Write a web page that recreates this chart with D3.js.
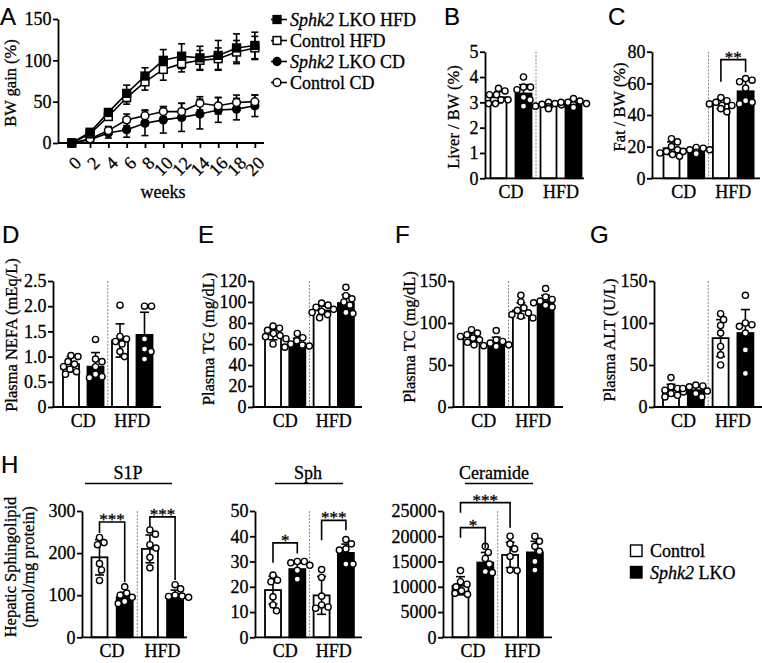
<!DOCTYPE html>
<html><head><meta charset="utf-8">
<script src="https://cdn.jsdelivr.net/npm/d3@7"></script>
<style>
body{margin:0;background:#fff}
svg{display:block}
text{font-family:"Liberation Serif","Times New Roman",serif;fill:#000;stroke:#000;stroke-width:0.3px}
</style>
</head><body>
<svg id="c" width="762" height="663"></svg>
<script>
// ---------- DATA ----------
const weeks = [0,2,4,6,8,10,12,14,16,18,20];
const bwLkoHfd = [0,13,37,60,81,100,105,103,106,115,118];
const bwLkoHfdSd = [0,3,4,10,10,13,15,14,18,17,16];
const bwCtrlHfd = [0,11,32,55,74,89,96,100,102,110,115];
const bwCtrlHfdSd = [0,3,4,8,10,13,10,12,13,14,14];
const bwLkoCd = [0,4,12,16,24,28,31,35,40,41,45];
const bwLkoCdSd = [0,2,6,9,15,16,17,18,15,13,13];
const bwCtrlCd = [0,5,15,28,33,38,38,48,45,49,50];
const bwCtrlCdSd = [0,2,5,7,7,6,10,8,10,9,8];
const yTicksA = [0,50,100,150];

const groups = ["Control CD","Sphk2 LKO CD","Control HFD","Sphk2 LKO HFD"];
const diets = ["CD","HFD"];

const liverMean = [3.2,3.35,2.88,2.95];
const liverSd = [0.22,0.35,0.08,0.12];
const liverPts = [[3.55,3.45,3.3,3.3,3.1,3.1,2.95,2.95],[4.0,3.6,3.6,3.5,3.2,3.1,2.85],[3.0,2.95,2.92,2.9,2.85,2.82,2.75],[3.15,3.05,3.0,3.0,2.95,2.9,2.8]];
const liverTicks = [0,1,2,3,4,5];

const fatMean = [19,17.5,47,55];
const fatSd = [4,1.5,3,7];
const fatPts = [[25,23,20,18,17,16,15,14],[19.5,19,18,18,17,16.5,15.5],[51,49,48,47,46,46,44,42],[63,62,61,57,49,48,47]];
const fatTicks = [0,20,40,60,80];

const nefaMean = [0.85,0.8,1.32,1.43];
const nefaSd = [0.15,0.28,0.33,0.45];
const nefaPts = [[1.02,1.0,0.9,0.85,0.8,0.75,0.7,0.65],[1.34,0.95,0.9,0.8,0.65,0.6,0.58],[2.02,1.4,1.35,1.3,1.25,1.1,1.0],[2.0,2.0,1.35,1.15,1.1,0.95]];
const nefaTicks = [0,0.5,1.0,1.5,2.0,2.5];

const tgMean = [69,61,92,99];
const tgSd = [5,4.5,4,8];
const tgPts = [[77,75,73,70,68,67,65,60],[70,66,63,60,59,58,57],[99,97,95,93,91,90,88,85],[114,106,103,100,97,90,89]];
const tgTicks = [0,20,40,60,80,100,120];

const tcMean = [83,77,115,126];
const tcSd = [5,6,9,7];
const tcPts = [[92,88,86,84,82,80,77,74],[91,80,78,76,74,73,72],[133,125,118,115,112,110,108,106],[141,131,128,126,124,121,119]];
const tcTicks = [0,50,100,150];

const altMean = [20,20,82,88];
const altSd = [7,5,22,28];
const altPts = [[35,24,22,20,18,16,14,12],[26,25,24,22,19,16,12],[111,104,97,88,72,62,50],[133,100,98,96,88,68,40]];
const altTicks = [0,50,100,150];

const s1pMean = [190,95,210,102];
const s1pSd = [42,12,33,10];
const s1pPts = [[237,225,220,175,160,135],[120,105,100,95,85,80],[255,245,220,212,190,165],[125,115,100,98,97,95]];
const s1pTicks = [0,100,200,300];

const sphMean = [18.7,27,16.6,33.4];
const sphSd = [5.5,2.3,7.5,3.5];
const sphPts = [[24.6,22.6,22,16,12.8,10.5],[30,30,29.5,28.5,26.5,23],[26.8,23.7,16.3,12.8,11.5,12],[38.7,37,35,34.5,29,29]];
const sphTicks = [0,10,20,30,40,50];

const cerMean = [10200,14800,16300,16800];
const cerSd = [1800,2000,2500,2200];
const cerPts = [[13200,11000,10500,10000,9200,8700,8500],[18000,16800,15600,14500,13000,12800],[20000,18500,17500,16000,13300,13200],[20000,19000,18000,17000,15000,13300]];
const cerTicks = [0,5000,10000,15000,20000,25000];

// significance brackets: [groupA, groupB, top, legA end, legB end, label]
const fatSig = [[2,3,75,61,67,"**"]];
const s1pSig = [[0,1,274,248,131,"***"],[2,3,286,262,136,"***"]];
const sphSig = [[0,1,37.4,29.5,33.2,"*"],[2,3,46.3,38.4,42.4,"***"]];
const cerSig = [[0,1,21700,19700,17700,"*"],[0,2,26650,24660,21690,"***"]];

// ---------- DRAWING ----------
const svg = d3.select("#c");
const SERIF = '"Liberation Serif","Times New Roman",serif';
const SANS = '"Liberation Sans",Arial,sans-serif';
const FS = 18;     // horizontal text
const FSV = 16.5;  // vertical titles
const SW = 1.8;

function txt(sel,x,y,size){
  return sel.append("text").attr("x",x).attr("y",y).attr("font-size",size||FS)
    .style("font-family",SERIF).attr("fill","#000");
}
function styleAxis(g){
  g.attr("font-family",null).attr("font-size",null);
  g.selectAll("path,line").attr("stroke","#000").attr("stroke-width",SW);
  g.selectAll("text").attr("font-size",FS).style("font-family",SERIF).attr("fill","#000");
}
function letter(t,x,y){
  svg.append("text").attr("x",x).attr("y",y).attr("font-size",24).style("font-family",SANS).style("stroke-width","0.2px").text(t);
}
function yTitle(lines,x,y,gap){
  lines.forEach((l,i)=>{
    svg.append("text").attr("transform",`translate(${x+i*(gap||0)},${y}) rotate(-90)`)
      .attr("text-anchor","middle").attr("font-size",FSV).style("font-family",SERIF).text(l);
  });
}

// ---- Panel A ----
(function(){
  const x = d3.scaleLinear().domain([-1.5,21]).range([58,264]);
  const y = d3.scaleLinear().domain([0,150]).range([143,19]);
  const ga = svg.append("g").attr("transform","translate(58,0)")
    .call(d3.axisLeft(y).tickValues(yTicksA).tickSize(5).tickPadding(1.5).tickSizeOuter(0));
  styleAxis(ga);
  const gx = svg.append("g").attr("transform","translate(0,143)")
    .call(d3.axisBottom(x).tickValues(weeks).tickSize(5).tickSizeOuter(0));
  styleAxis(gx);
  gx.select(".domain").attr("d",`M58,0H264`);
  gx.selectAll(".tick text").attr("text-anchor","end").attr("dy",null).attr("y",0)
    .attr("transform","translate(6,17) rotate(-45)").attr("dominant-baseline","central");
  txt(svg,163,198).attr("text-anchor","middle").text("weeks");
  yTitle(["BW gain (%)"],16,83);
  letter("A",0,25);

  const series = [
    {m:bwLkoCd, s:bwLkoCdSd, shape:"circle", fill:"#000"},
    {m:bwCtrlCd, s:bwCtrlCdSd, shape:"circle", fill:"#fff"},
    {m:bwCtrlHfd, s:bwCtrlHfdSd, shape:"square", fill:"#fff"},
    {m:bwLkoHfd, s:bwLkoHfdSd, shape:"square", fill:"#000"}
  ];
  const line = d3.line().x((d,i)=>x(weeks[i])).y(d=>y(d));
  series.forEach(se=>{
    const g = svg.append("g");
    se.m.forEach((v,i)=>{
      if(se.s[i]>0){
        const cx=x(weeks[i]);
        g.append("line").attr("x1",cx).attr("x2",cx).attr("y1",y(v-se.s[i])).attr("y2",y(v+se.s[i])).attr("stroke","#000").attr("stroke-width",1.6);
        [v-se.s[i],v+se.s[i]].forEach(e=>g.append("line").attr("x1",cx-3.5).attr("x2",cx+3.5).attr("y1",y(e)).attr("y2",y(e)).attr("stroke","#000").attr("stroke-width",1.6));
      }
    });
  });
  series.forEach(se=>{
    svg.append("path").attr("d",line(se.m)).attr("fill","none").attr("stroke","#000").attr("stroke-width",1.6);
  });
  function marker(g,shape,fill,cx,cy){
    if(shape==="square") g.append("rect").attr("x",cx-3.9).attr("y",cy-3.9).attr("width",7.8).attr("height",7.8).attr("fill",fill).attr("stroke","#000").attr("stroke-width",1.5);
    else g.append("circle").attr("cx",cx).attr("cy",cy).attr("r",3.9).attr("fill",fill).attr("stroke","#000").attr("stroke-width",1.5);
  }
  series.forEach(se=>{
    const g=svg.append("g");
    se.m.forEach((v,i)=>marker(g,se.shape,se.fill,x(weeks[i]),y(v)));
  });
  const leg = [
    {it:"Sphk2", rest:" LKO HFD", shape:"square", fill:"#000"},
    {it:"", rest:"Control HFD", shape:"square", fill:"#fff"},
    {it:"Sphk2", rest:" LKO CD", shape:"circle", fill:"#000"},
    {it:"", rest:"Control CD", shape:"circle", fill:"#fff"}
  ];
  leg.forEach((l,i)=>{
    const yy = 19.5+i*21;
    svg.append("line").attr("x1",271).attr("x2",287).attr("y1",yy).attr("y2",yy).attr("stroke","#000").attr("stroke-width",1.6);
    marker(svg,l.shape,l.fill,277,yy);
    const t = txt(svg,290,yy+6);
    if(l.it) t.append("tspan").attr("font-style","italic").text(l.it);
    t.append("tspan").text(l.rest);
  });
})();

// ---- bar panels ----
function swarm(vals, y, r){
  const out = new Array(vals.length);
  const placed = [];
  vals.map((v,i)=>({i,py:y(v)})).sort((a,b)=>a.py-b.py).forEach(p=>{
    let off=0;
    for(let k=0;k<60;k++){
      const c = k===0?0:(k%2? Math.ceil(k/2): -Math.ceil(k/2))*0.5;
      if(placed.every(q=>(q.x-c)**2+(q.y-p.py)**2 >= (2*r+0.4)**2)){off=c;break;}
    }
    placed.push({x:off,y:p.py}); out[p.i]=off;
  });
  return out;
}

function barPanel(o){
  const y = d3.scaleLinear().domain([0,o.max]).range([o.yB,o.yT]);
  const x = d3.scalePoint().domain(d3.range(4)).range([o.x0+o.off, o.x0+o.off+3*o.step]);
  const dx = (x(1)+x(2))/2;
  svg.append("line").attr("x1",dx).attr("x2",dx).attr("y1",o.yT).attr("y2",o.yB)
    .attr("stroke","#777").attr("stroke-width",0.9).attr("stroke-dasharray","2,1.5");
  const bw = 16;
  o.mean.forEach((m,i)=>{
    svg.append("rect").attr("x",x(i)-bw/2).attr("y",y(m)).attr("width",bw).attr("height",o.yB-y(m))
      .attr("fill",i%2?"#000":"#fff").attr("stroke","#000").attr("stroke-width",SW);
  });
  o.mean.forEach((m,i)=>{
    const cx=x(i), s=o.sd[i];
    svg.append("line").attr("x1",cx).attr("x2",cx).attr("y1",y(m-s)).attr("y2",y(m+s)).attr("stroke","#000").attr("stroke-width",1.6);
    [m-s,m+s].forEach(e=>svg.append("line").attr("x1",cx-4.5).attr("x2",cx+4.5).attr("y1",y(e)).attr("y2",y(e)).attr("stroke","#000").attr("stroke-width",1.6));
  });
  const r=3.1;
  o.pts.forEach((arr,i)=>{
    const offs = swarm(arr,y,r);
    arr.forEach((v,j)=>{
      svg.append("circle").attr("cx",x(i)+offs[j]).attr("cy",y(v)).attr("r",r)
        .attr("fill","#fff").attr("stroke","#000").attr("stroke-width",1.4);
    });
  });
  const ga = svg.append("g").attr("transform",`translate(${o.x0},0)`)
    .call(d3.axisLeft(y).tickValues(o.ticks).tickSize(5).tickPadding(1.5).tickSizeOuter(0).tickFormat(o.fmt||(d=>d)));
  styleAxis(ga);
  svg.append("line").attr("x1",o.x0-0.9).attr("x2",o.x1).attr("y1",o.yB).attr("y2",o.yB).attr("stroke","#000").attr("stroke-width",SW);
  diets.forEach((d,k)=>{
    txt(svg,(x(2*k)+x(2*k+1))/2,o.yB+19.5).attr("text-anchor","middle").text(d);
  });
  (o.sig||[]).forEach(s=>{
    const [a,b,top,la,lb,lab]=s;
    svg.append("path").attr("d",`M${x(a)},${y(la)}V${y(top)}H${x(b)}V${y(lb)}`)
      .attr("fill","none").attr("stroke","#000").attr("stroke-width",1.6);
    txt(svg,(x(a)+x(b))/2,y(top)+3,17).attr("text-anchor","middle").text(lab);
  });
  if(o.title) yTitle(o.title,o.tx,o.ty,o.gap);
  if(o.letter) letter(o.letter,o.lx,o.ly);
  if(o.header){
    txt(svg,o.hx,479).attr("text-anchor","middle").text(o.header);
    svg.append("line").attr("x1",o.hl[0]).attr("x2",o.hl[1]).attr("y1",483.5).attr("y2",483.5).attr("stroke","#000").attr("stroke-width",1.6);
  }
}

const f1 = d=> d===0?"0":d3.format(".1f")(d);
barPanel({x0:485,x1:584,yB:178.3,yT:51.7,max:5,ticks:liverTicks,off:13.5,step:25,mean:liverMean,sd:liverSd,pts:liverPts,title:["Liver / BW (%)"],tx:459,ty:117,letter:"B",lx:444,ly:25});
barPanel({x0:652,x1:760,yB:178.3,yT:51.7,max:80,ticks:fatTicks,off:19.5,step:24.7,mean:fatMean,sd:fatSd,pts:fatPts,sig:fatSig,title:["Fat / BW (%)"],tx:625,ty:107,letter:"C",lx:608,ly:25});
barPanel({x0:53,x1:161,yB:407,yT:281,max:2.5,ticks:nefaTicks,fmt:f1,off:18,step:24.5,mean:nefaMean,sd:nefaSd,pts:nefaPts,title:["Plasma NEFA (mEq/L)"],tx:17,ty:335,letter:"D",lx:2,ly:243});
barPanel({x0:253,x1:362,yB:407,yT:281,max:120,ticks:tgTicks,off:20,step:24.3,mean:tgMean,sd:tgSd,pts:tgPts,title:["Plasma TG (mg/dL)"],tx:213.5,ty:339,letter:"E",lx:198,ly:243});
barPanel({x0:453,x1:563,yB:407,yT:281,max:150,ticks:tcTicks,off:18.5,step:24.7,mean:tcMean,sd:tcSd,pts:tcPts,title:["Plasma TC (mg/dL)"],tx:415,ty:337,letter:"F",lx:395,ly:243});
barPanel({x0:654,x1:762,yB:407,yT:281,max:150,ticks:altTicks,off:17,step:24.8,mean:altMean,sd:altSd,pts:altPts,title:["Plasma ALT (U/L)"],tx:615,ty:340,letter:"G",lx:590,ly:243});
barPanel({x0:82,x1:187,yB:637.3,yT:511,max:300,ticks:s1pTicks,off:17.5,step:25.2,mean:s1pMean,sd:s1pSd,pts:s1pPts,sig:s1pSig,header:"S1P",hx:128,hl:[85,172],letter:"H",lx:1,ly:473});
barPanel({x0:255,x1:362,yB:637.3,yT:511,max:50,ticks:sphTicks,off:18,step:24.3,mean:sphMean,sd:sphSd,pts:sphPts,sig:sphSig,header:"Sph",hx:308,hl:[275,343]});
barPanel({x0:443,x1:552,yB:637.3,yT:511,max:25000,ticks:cerTicks,off:17.5,step:24.8,mean:cerMean,sd:cerSd,pts:cerPts,sig:cerSig,header:"Ceramide",hx:494,hl:[465,533]});

yTitle(["Hepatic Sphingolipid","(pmol/mg protein)"],16,567,17.5);

// H legend
[["#fff","","Control"],["#000","Sphk2"," LKO"]].forEach((l,i)=>{
  const yy = 545+i*21.5;
  svg.append("rect").attr("x",630.5).attr("y",yy).attr("width",11.5).attr("height",11.5).attr("fill",l[0]).attr("stroke","#000").attr("stroke-width",1.4);
  const t = txt(svg,650,yy+12);
  if(l[1]) t.append("tspan").attr("font-style","italic").text(l[1]);
  t.append("tspan").text(l[2]);
});
</script>
</body></html>
